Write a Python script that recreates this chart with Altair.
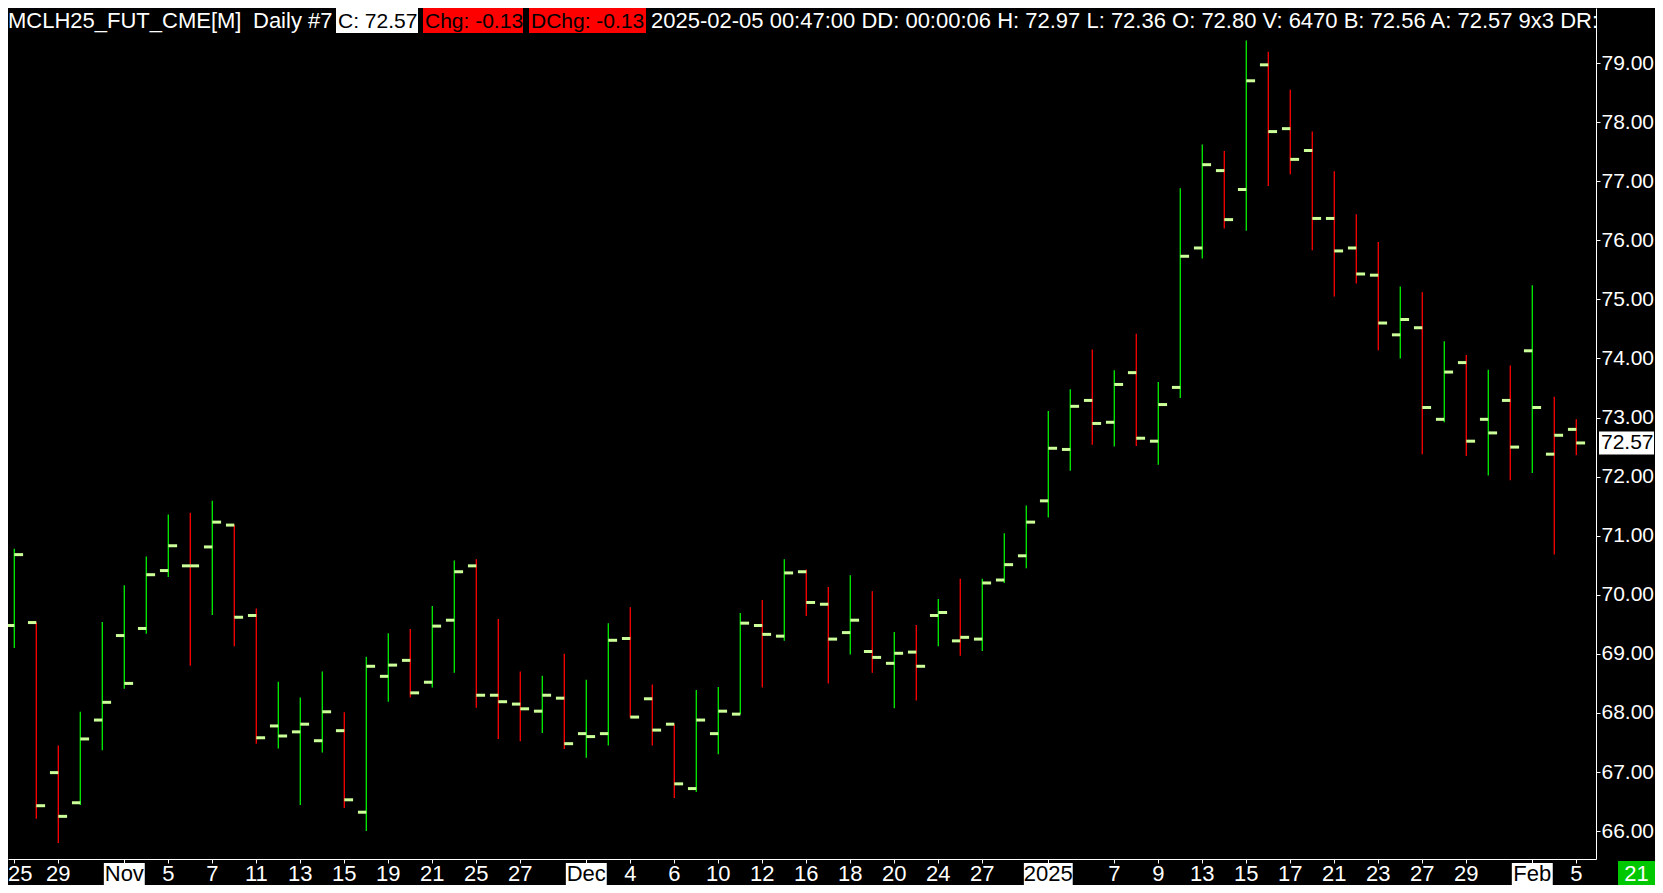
import altair as alt
import pandas as pd

# ---------------- data ----------------
dates = ["2024-10-25", "2024-10-28", "2024-10-29", "2024-10-30", "2024-10-31",
         "2024-11-01", "2024-11-04", "2024-11-05", "2024-11-06", "2024-11-07",
         "2024-11-08", "2024-11-11", "2024-11-12", "2024-11-13", "2024-11-14",
         "2024-11-15", "2024-11-18", "2024-11-19", "2024-11-20", "2024-11-21",
         "2024-11-22", "2024-11-25", "2024-11-26", "2024-11-27", "2024-11-28",
         "2024-11-29", "2024-12-02", "2024-12-03", "2024-12-04", "2024-12-05",
         "2024-12-06", "2024-12-09", "2024-12-10", "2024-12-11", "2024-12-12",
         "2024-12-13", "2024-12-16", "2024-12-17", "2024-12-18", "2024-12-19",
         "2024-12-20", "2024-12-23", "2024-12-24", "2024-12-26", "2024-12-27",
         "2024-12-30", "2024-12-31", "2025-01-02", "2025-01-03", "2025-01-06",
         "2025-01-07", "2025-01-08", "2025-01-09", "2025-01-10", "2025-01-13",
         "2025-01-14", "2025-01-15", "2025-01-16", "2025-01-17", "2025-01-20",
         "2025-01-21", "2025-01-22", "2025-01-23", "2025-01-24", "2025-01-27",
         "2025-01-28", "2025-01-29", "2025-01-30", "2025-01-31", "2025-02-03",
         "2025-02-04", "2025-02-05"]

opens = [69.48, 69.53, 66.99, 66.48, 67.88, 69.31, 69.43, 70.41, 70.49, 70.81,
         71.18, 69.65, 67.78, 67.68, 67.53, 67.70, 66.32, 68.62, 68.89, 68.52,
         69.57, 70.49, 68.30, 68.15, 68.03, 68.25, 67.65, 67.65, 69.26, 68.24,
         67.81, 66.72, 67.65, 67.98, 69.48, 69.30, 70.39, 69.84, 69.36, 69.04,
         68.84, 69.03, 69.65, 69.22, 69.25, 70.25, 70.66, 71.59, 72.46, 73.29,
         72.92, 73.76, 72.60, 73.51, 75.87, 77.18, 76.86, 78.97, 77.89, 77.52,
         76.37, 75.87, 75.41, 74.40, 74.52, 72.97, 73.93, 72.97, 73.29, 74.13,
         72.38, 72.80]

highs = [70.78, 69.53, 67.45, 68.02, 69.54, 70.16, 70.65, 71.36, 71.39, 71.59,
         71.18, 69.77, 68.53, 68.26, 68.70, 68.01, 68.95, 69.35, 69.42, 69.81,
         70.58, 70.60, 69.59, 68.70, 68.63, 69.00, 68.56, 69.52, 69.79, 68.48,
         67.81, 68.39, 68.44, 69.69, 69.91, 70.60, 70.43, 70.13, 70.33, 70.06,
         69.37, 69.49, 69.93, 70.27, 70.27, 71.04, 71.51, 73.11, 73.48, 74.15,
         73.80, 74.42, 73.60, 76.88, 77.62, 77.51, 79.38, 79.19, 78.55, 77.84,
         77.17, 76.44, 75.97, 75.22, 75.12, 74.29, 74.06, 73.81, 73.88, 75.24,
         73.35, 72.97]

lows = [69.10, 66.21, 65.80, 66.44, 67.37, 68.41, 69.34, 70.30, 68.80, 69.66,
        69.13, 67.48, 67.40, 66.44, 67.33, 66.39, 66.00, 68.19, 68.26, 68.43,
        68.68, 68.09, 67.56, 67.52, 67.66, 67.39, 67.24, 67.45, 67.92, 67.45,
        66.56, 66.66, 67.30, 67.98, 68.43, 69.22, 69.64, 68.50, 68.99, 68.68,
        68.08, 68.21, 69.13, 68.97, 69.05, 70.20, 70.45, 71.31, 72.10, 72.54,
        72.51, 72.52, 72.20, 73.33, 75.69, 76.20, 76.16, 76.92, 77.12, 75.83,
        75.05, 75.27, 74.14, 74.00, 72.38, 72.92, 72.35, 72.02, 71.94, 72.06,
        70.68, 72.36]

closes = [70.68, 66.43, 66.25, 67.56, 68.18, 68.50, 70.34, 70.83, 70.49, 71.23,
          69.62, 67.58, 67.61, 67.81, 68.02, 66.53, 68.79, 68.81, 68.34, 69.47,
          70.39, 68.30, 68.19, 68.07, 68.30, 67.48, 67.60, 69.23, 67.93, 67.71,
          66.80, 67.88, 68.03, 69.52, 69.33, 70.37, 69.87, 69.25, 69.57, 68.94,
          69.01, 68.79, 69.70, 69.28, 70.20, 70.51, 71.23, 72.48, 73.19, 72.90,
          73.56, 72.65, 73.22, 75.73, 77.28, 76.35, 78.70, 77.84, 77.37, 76.37,
          75.82, 75.43, 74.60, 74.66, 73.17, 73.77, 72.60, 72.74, 72.50, 73.17,
          72.70, 72.57]

# bottom axis labels: bar index and text
label_idx = [0, 2, 5, 7, 9, 11, 13, 15, 17, 19, 21, 23, 26, 28, 30, 32, 34, 36,
             38, 40, 42, 44, 47, 50, 52, 54, 56, 58, 60, 62, 64, 66, 69, 71]
label_txt = ["25", "29", "Nov", "5", "7", "11", "13", "15", "19", "21", "25", "27",
             "Dec", "4", "6", "10", "12", "16", "18", "20", "24", "27", "2025",
             "7", "9", "13", "15", "17", "21", "23", "27", "29", "Feb", "5"]

price_ticks = [66, 67, 68, 69, 70, 71, 72, 73, 74, 75, 76, 77, 78, 79]

hdr_symbol = "MCLH25_FUT_CME[M]"
hdr_period = "Daily #7"
hdr_close = "C: 72.57"
hdr_chg = "Chg: -0.13"
hdr_dchg = "DChg: -0.13"
hdr_rest = ("2025-02-05 00:47:00 DD: 00:00:06 H: 72.97 L: 72.36 O: 72.80 "
            "V: 6470 B: 72.56 A: 72.57 9x3 DR:0")
corner_txt = "21"

# ---------------- layout / style ----------------
W, H = 1588, 851
PAD_R, PAD_B = 59, 26
X_DOM = [-0.2864, 71.896]
Y_DOM = [65.528, 79.932]
FONT = "Liberation Sans, Arial, Helvetica, sans-serif"
GREEN = "#00F000"
RED = "#FF0000"
TICK = "#CCFF99"
BOXGREEN = "#00C800"

df = pd.DataFrame({"i": list(range(len(dates))), "date": dates, "open": opens,
                   "high": highs, "low": lows, "close": closes})
prev = df["close"].shift(1)
df["dir"] = ["up" if (pd.isna(p) and c >= o) or (not pd.isna(p) and c >= p) else "down"
             for p, c, o in zip(prev, df["close"], df["open"])]

xs = alt.Scale(domain=X_DOM, nice=False, zero=False)
ys = alt.Scale(domain=Y_DOM, nice=False, zero=False)
XAX = alt.Axis(values=label_idx, labels=False, ticks=True, tickSize=4,
               domain=True, domainColor="white", tickColor="white",
               domainWidth=1, tickWidth=1, grid=False, title=None, orient="bottom")
YAX = alt.Axis(orient="right", values=price_ticks, format=".2f",
               labelColor="white", labelFontSize=21, labelFont=FONT,
               tickColor="white", tickSize=4, tickWidth=1, domainColor="white",
               domainWidth=1, labelPadding=1, grid=False, title=None)
col = alt.Color("dir:N", scale=alt.Scale(domain=["up", "down"], range=[GREEN, RED]),
                legend=None)

base = alt.Chart(df)

bars = base.mark_rule(strokeWidth=1.3).encode(
    x=alt.X("i:Q", scale=xs, axis=XAX),
    y=alt.Y("low:Q", scale=ys, axis=YAX),
    y2="high:Q",
    color=col,
)

open_ticks = base.transform_calculate(xa="datum.i - 0.38").mark_rule(
    color=TICK, strokeWidth=3, strokeCap="butt").encode(
    x=alt.X("xa:Q", scale=xs, axis=XAX),
    x2="i:Q",
    y=alt.Y("open:Q", scale=ys, axis=YAX),
)
close_ticks = base.transform_calculate(xb="datum.i + 0.40").mark_rule(
    color=TICK, strokeWidth=3, strokeCap="butt").encode(
    x=alt.X("i:Q", scale=xs, axis=XAX),
    x2="xb:Q",
    y=alt.Y("close:Q", scale=ys, axis=YAX),
)

# bottom labels
lab = pd.DataFrame({"i": label_idx, "t": label_txt})
lab["month"] = [not t.isdigit() or len(t) == 4 for t in lab["t"]]
lab["hw"] = [(1.11 if len(t) == 4 else 0.93) for t in lab["t"]]
labc = alt.Chart(lab)
month_boxes = labc.transform_filter("datum.month").transform_calculate(
    x0="datum.i - datum.hw", x1="datum.i + datum.hw").mark_rect(color="white").encode(
    x=alt.X("x0:Q", scale=xs, axis=XAX), x2="x1:Q",
    y=alt.value(H + 4), y2=alt.value(H + 26))
day_text = labc.transform_filter("datum.i > 0").mark_text(
    font=FONT, fontSize=22, align="center", baseline="alphabetic").encode(
    x=alt.X("i:Q", scale=xs, axis=XAX), y=alt.value(H + 22), text="t:N",
    color=alt.condition("datum.month", alt.value("black"), alt.value("white")))
first_text = labc.transform_filter("datum.i == 0").mark_text(
    font=FONT, fontSize=22, align="center", baseline="alphabetic", dx=6,
    color="white").encode(
    x=alt.X("i:Q", scale=xs, axis=XAX), y=alt.value(H + 22), text="t:N")

# last price box on right axis
last = pd.DataFrame({"close": [closes[-1]]})
lastc = alt.Chart(last)
last_box = lastc.transform_calculate(lo="datum.close - 0.194", hi="datum.close + 0.194").mark_rect(
    color="white").encode(x=alt.value(W + 3), x2=alt.value(W + 58),
                          y=alt.Y("lo:Q", scale=ys, axis=YAX), y2="hi:Q")
last_text = lastc.mark_text(font=FONT, fontSize=21, align="left", baseline="middle",
                            color="black").encode(
    x=alt.value(W + 5), y=alt.Y("close:Q", scale=ys, axis=YAX),
    text=alt.Text("close:Q", format=".2f"))

# corner box
corner = pd.DataFrame({"t": [corner_txt]})
corner_box = alt.Chart(corner).mark_rect(color=BOXGREEN).encode(
    x=alt.value(W + 22), x2=alt.value(W + 59), y=alt.value(H + 2), y2=alt.value(H + 26))
corner_text = alt.Chart(corner).mark_text(font=FONT, fontSize=22, align="center",
                                          baseline="alphabetic", color="white").encode(
    x=alt.value(W + 40.5), y=alt.value(H + 22), text="t:N")

# header
HB = 20  # header text baseline


def hbox(x0, x1, color):
    return alt.Chart(pd.DataFrame({"a": [0]})).mark_rect(color=color).encode(
        x=alt.value(x0), x2=alt.value(x1), y=alt.value(0), y2=alt.value(25))


def htext(x, s, color, size=22, clip=False):
    return alt.Chart(pd.DataFrame({"t": [s]})).mark_text(
        font=FONT, fontSize=size, align="left", baseline="alphabetic", color=color,
        clip=clip).encode(x=alt.value(x), y=alt.value(HB), text="t:N")


header = [
    hbox(328, 410, "white"),
    hbox(415, 515, RED),
    hbox(521, 638, RED),
    htext(0, hdr_symbol, "white"),
    htext(245, hdr_period, "white"),
    htext(330, hdr_close, "black", size=21),
    htext(417, hdr_chg, "black", size=21),
    htext(523, hdr_dchg, "black", size=21),
    htext(643, hdr_rest, "white", clip=True),
]

chart = alt.layer(
    bars, open_ticks, close_ticks, month_boxes, day_text, first_text,
    last_box, last_text, corner_box, corner_text, *header
).properties(
    width=W, height=H,
    autosize=alt.AutoSizeParams(type="none"),
    padding={"left": 0, "top": 0, "right": PAD_R, "bottom": PAD_B},
    background="black",
).configure_view(strokeWidth=0)

chart.save("out.html", embed_options={"renderer": "svg", "actions": False})
